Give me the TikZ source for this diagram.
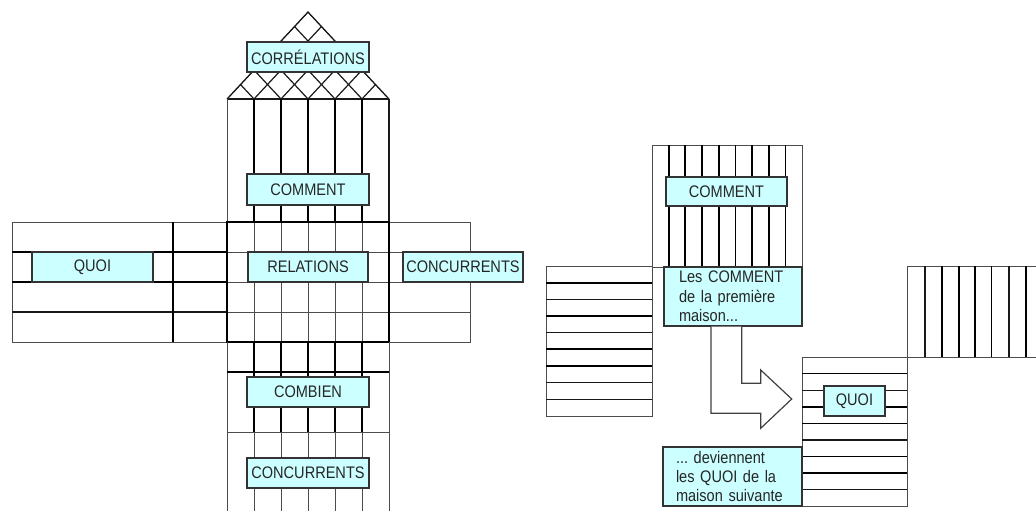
\documentclass[tikz,border=0pt]{standalone}
\usepackage{fontspec}
\setmainfont{Liberation Sans}
\newfontfamily\boxfont[FakeStretch=0.87]{Liberation Sans}
\definecolor{boxc}{RGB}{204,255,255}
\frenchspacing
\begin{document}
\begin{tikzpicture}[x=1bp,y=-1bp,
  thn/.style={line width=0.8bp, black!70},
  med/.style={line width=1.2bp, black!90},
  thk/.style={line width=1.7bp, black},
  lbl/.style={draw=black!80, line width=1.1bp, fill=boxc, inner sep=0pt,
    text=black!85, font=\boxfont\fontsize{16.8}{19.5}\selectfont},
  note/.style={lbl, align=left},
]
\useasboundingbox (0,0) rectangle (1036,511);
\clip (0,0) rectangle (1036,511);

% ---------- first house ----------
% lattice roof
\begin{scope}
  \clip (308,12) -- (227,99) -- (389,99) -- cycle;
  \foreach \i in {0,...,6} {
    \draw[med] (227+27*\i,99) -- ++(81,-87);
    \draw[med] (227+27*\i,99) -- ++(-81,-87);
  }
\end{scope}
\draw[med] (227,99) -- (308,12) -- (389,99);

% upper shaft
\draw[med] (227,99) -- (389,99);
\draw[thn] (227,99) -- (227,222);
\foreach \x in {254,281,308,335,362} \draw[thk] (\x,99) -- (\x,222);
\draw[med] (389,99) -- (389,222);

% left arm
\draw[thn] (12,222) rectangle (227,342);
\foreach \y in {252,282} \draw[thk] (12,\y) -- (227,\y);
\draw[med] (12,312) -- (227,312);
\draw[thk] (173,222) -- (173,342);

% right arm
\draw[thn] (389,222) rectangle (470,342);
\foreach \y in {252,282,312} \draw[thn] (389,\y) -- (470,\y);

% centre block
\foreach \x in {254,281,308,335,362} \draw[thn] (\x,222) -- (\x,342);
\foreach \y in {252,282,312} \draw[thn] (227,\y) -- (389,\y);
\draw[thk] (227,222) rectangle (389,342);

% lower shaft
\draw[thn] (227,342) -- (227,515);
\draw[thn] (389,342) -- (389,515);
\foreach \x in {254,281,308,335,362} {
  \draw[thk] (\x,342) -- (\x,432);
  \draw[thn] (\x,432) -- (\x,515);
}
\draw[thk] (227,372) -- (389,372);
\draw[thn] (227,432) -- (389,432);

% labels
\node[lbl, minimum width=122bp, minimum height=30bp] (correl) at (308,57) {CORRÉLATIONS};
\node[lbl, minimum width=122bp, minimum height=31bp] (commentL) at (308,189.5) {COMMENT};
\node[lbl, minimum width=121bp, minimum height=30bp] (quoiL) at (92.5,267) {QUOI};
\node[lbl, minimum width=120bp, minimum height=30bp] (relations) at (308,267) {RELATIONS};
\node[lbl, minimum width=120bp, minimum height=30bp] (concR) at (463,267) {CONCURRENTS};
\node[lbl, minimum width=122bp, minimum height=30bp] (combien) at (308,392) {COMBIEN};
\node[lbl, minimum width=122bp, minimum height=30bp] (concB) at (308,473) {CONCURRENTS};

% ---------- second figure ----------
% column of the first house
\draw[thn] (652,145) rectangle (802,267);
\foreach \k in {1,...,8} \draw[thk] (652+16.67*\k,145) -- ++(0,122);

% row block on the left
\draw[thn] (546,266) rectangle (652,416);
\foreach \k/\s in {1/thk,2/med,3/thk,4/med,5/thk,6/thk,7/med,8/med}
  \draw[\s] (546,266+16.67*\k) -- ++(106,0);

% row block of the next house
\draw[thn] (802,357) rectangle (907,506);
\foreach \k/\s in {1/thk,2/med,3/thk,4/thk,5/med,6/thk,7/thk,8/med}
  \draw[\s] (802,357+16.6*\k) -- ++(105,0);

% column of the next house
\draw[thn] (907,357) -- (907,266) -- (1040,266);
\draw[thn] (907,357) -- (1040,357);
\foreach \x/\s in {925/med,942.3/thk,959/thk,975/thk,991.5/thk,1009/med,1026/thk}
  \draw[\s] (\x,266) -- (\x,357);

% labels
\node[lbl, minimum width=121bp, minimum height=29bp] (commentR) at (726.5,191.5) {COMMENT};
\node[note, minimum height=59bp, text width=108bp, inner xsep=15bp] (first) at (733,296.5)
  {Les COMMENT\\de la première\\maison...};
\node[note, minimum height=59bp, text width=113bp, inner xsep=13bp] (next) at (732.5,476.5)
  {... deviennent\\les QUOI de la\\maison suivante};
\node[lbl, minimum width=61bp, minimum height=30bp] (quoiR) at (854.5,401) {QUOI};

% bent arrow
\draw[line width=1.2bp, black!75, fill=white, line join=miter]
  (first.south -| 711,0) -- (711,413.3) -- (760.7,413.3) -- (760.7,428.3)
  -- (791.7,399) -- (760.7,370) -- (760.7,383.3) -- (741.7,383.3)
  -- (first.south -| 741.7,0);
\end{tikzpicture}
\end{document}
